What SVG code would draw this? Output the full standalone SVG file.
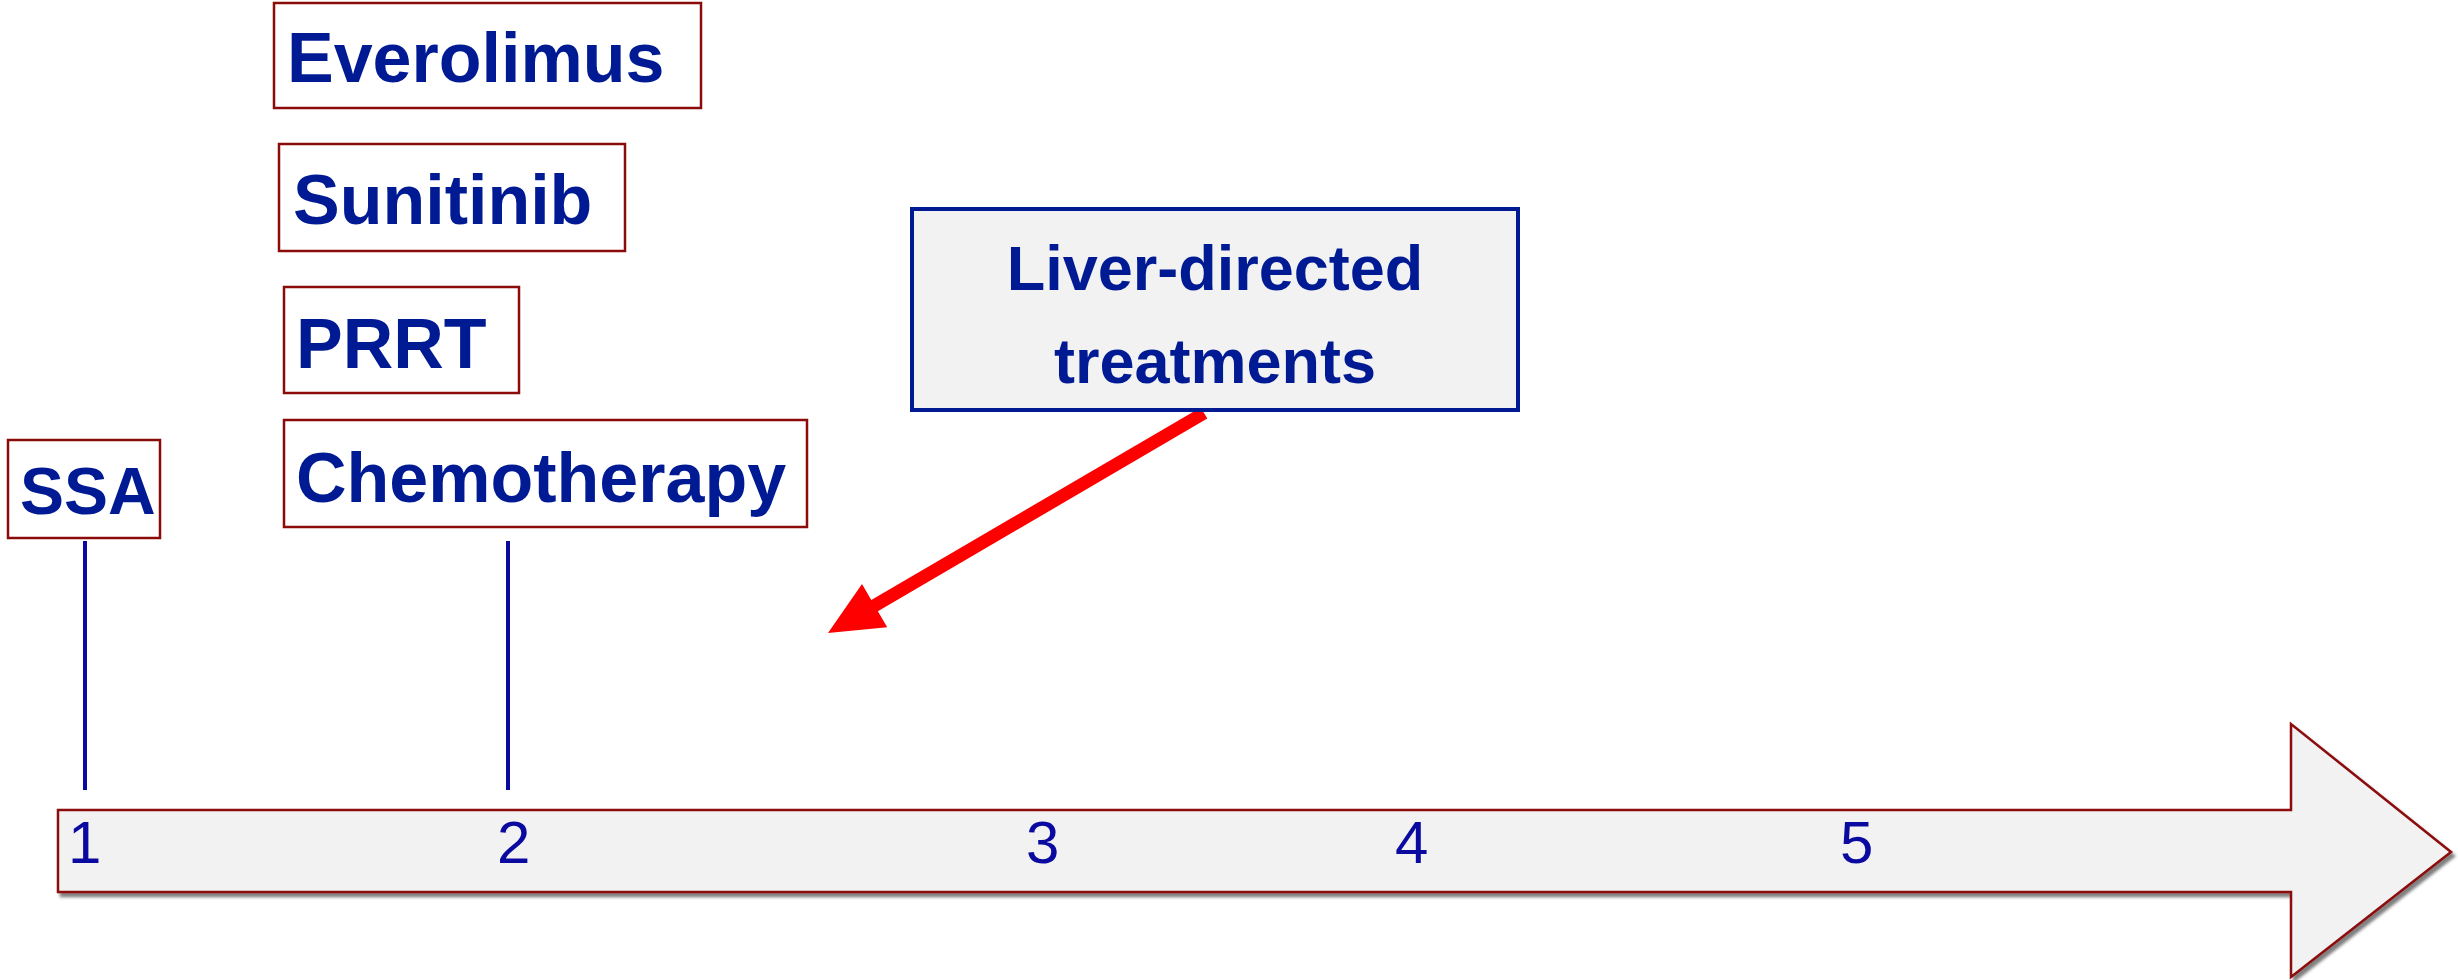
<svg xmlns="http://www.w3.org/2000/svg" width="2458" height="980" viewBox="0 0 2458 980">
<defs>
<style>
.box{fill:#ffffff;stroke:#8b0a0a;stroke-width:2.5}
.lbl{font-family:"Liberation Sans",Arial,sans-serif;font-weight:bold;fill:#001a94}
.num{font-family:"Liberation Sans",Arial,sans-serif;font-size:60px;fill:#0a0aa0}
.tick{stroke:#0a0aa0;stroke-width:4}
</style>
<filter id="sh" x="-5%" y="-20%" width="110%" height="140%">
<feDropShadow dx="3" dy="4" stdDeviation="1.5" flood-color="#000" flood-opacity="0.5"/>
</filter>
</defs>
<rect width="2458" height="980" fill="#ffffff"/>
<g id="timeline">
<polygon points="58,810 2291,810 2291,724 2451,852 2291,977 2291,892 58,892" fill="#f2f2f2" stroke="#8b0a0a" stroke-width="2.5" filter="url(#sh)"/>
<text class="num" x="68" y="863">1</text>
<text class="num" x="497" y="863">2</text>
<text class="num" x="1026" y="863">3</text>
<text class="num" x="1395" y="863">4</text>
<text class="num" x="1840" y="863">5</text>
</g>
<g id="connectors">
<line class="tick" x1="85" y1="541" x2="85" y2="790"/>
<line class="tick" x1="508" y1="541" x2="508" y2="790"/>
<polygon points="1200.7,407.4 871.3,600.1 862,584.1 828,633 887.2,627.3 877.9,611.3 1207.3,418.6" fill="#ff0000"/>
</g>
<g id="everolimus">
<rect class="box" x="274" y="3" width="427" height="105"/>
<text class="lbl" x="287" y="82" font-size="70">Everolimus</text>
</g>
<g id="sunitinib">
<rect class="box" x="279" y="144" width="346" height="107"/>
<text class="lbl" x="293" y="224" font-size="70">Sunitinib</text>
</g>
<g id="prrt">
<rect class="box" x="284" y="287" width="235" height="106"/>
<text class="lbl" x="296" y="368" font-size="70">PRRT</text>
</g>
<g id="chemotherapy">
<rect class="box" x="284" y="420" width="523" height="107"/>
<text class="lbl" x="296" y="502" font-size="70">Chemotherapy</text>
</g>
<g id="ssa">
<rect class="box" x="8" y="440" width="152" height="98"/>
<text class="lbl" x="20" y="514" font-size="66">SSA</text>
</g>
<g id="liver">
<rect x="912" y="209" width="606" height="201" fill="#f2f2f2" stroke="#001a94" stroke-width="4"/>
<text class="lbl" x="1215" y="290" font-size="63" text-anchor="middle">Liver-directed</text>
<text class="lbl" x="1215" y="383" font-size="63" text-anchor="middle">treatments</text>
</g>
</svg>
